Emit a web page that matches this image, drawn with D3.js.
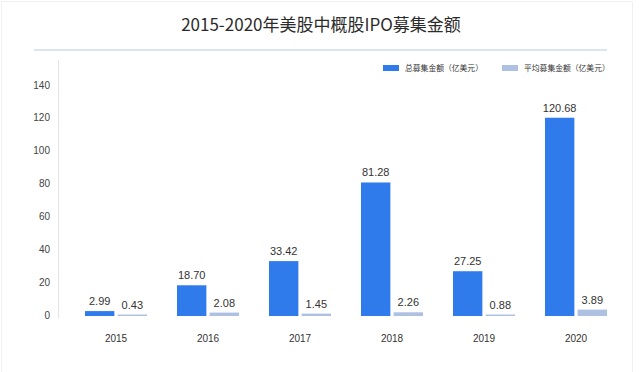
<!DOCTYPE html>
<html>
<head>
<meta charset="utf-8">
<script src="https://cdn.jsdelivr.net/npm/d3@7"></script>
<style>
  body { margin: 0; background: #fff; }
  svg { display: block; font-family: "Liberation Sans", "Noto Sans CJK SC", sans-serif; }
</style>
</head>
<body>
<div id="chart"></div>
<script>
const years = ['2015', '2016', '2017', '2018', '2019', '2020'];
const totalRaised = [2.99, 18.70, 33.42, 81.28, 27.25, 120.68];
const avgRaised = [0.43, 2.08, 1.45, 2.26, 0.88, 3.89];
const yTicks = [0, 20, 40, 60, 80, 100, 120, 140];
const seriesNames = ['总募集金额（亿美元）', '平均募集金额（亿美元）'];
const colors = ['#2f7bec', '#afc1e3'];

const width = 640;
const height = 372;

const svg = d3.select('#chart')
  .append('svg')
  .attr('width', width)
  .attr('height', height);

// faint frame round the card
svg.append('rect')
  .attr('x', 1.5).attr('y', 1.5)
  .attr('width', 631).attr('height', 372)
  .attr('fill', 'none')
  .attr('stroke', '#f0f0f0');

// title + underline
svg.append('text')
  .attr('x', 321).attr('y', 31)
  .attr('text-anchor', 'middle')
  .attr('font-family', '"Noto Sans CJK SC", sans-serif')
  .attr('font-size', 17)
  .attr('fill', '#2b2b2b')
  .text('2015-2020年美股中概股IPO募集金额');

svg.append('line')
  .attr('x1', 34).attr('x2', 607)
  .attr('y1', 50).attr('y2', 50)
  .attr('stroke', '#dde5ec')
  .attr('stroke-width', 2);

const rows = years.map((y, i) => ({ year: y, values: [totalRaised[i], avgRaised[i]] }));

const x = d3.scaleBand().domain(years).range([70, 622]).paddingInner(0).paddingOuter(0);
const xInner = d3.scaleBand().domain([0, 1]).range([15, x.bandwidth() - 15]).paddingInner(0.1);
const y = d3.scaleLinear().domain([0, 140]).range([316, 86]);

// y axis
svg.append('line')
  .attr('x1', 58.5).attr('x2', 58.5)
  .attr('y1', 60).attr('y2', 318)
  .attr('stroke', '#e4e4e4');

const yAxis = svg.append('g')
  .attr('transform', 'translate(50,0)')
  .call(d3.axisLeft(y).tickValues(yTicks).tickSize(0).tickPadding(0));
yAxis.select('.domain').remove();
yAxis.selectAll('text')
  .attr('font-family', '"Liberation Sans", sans-serif')
  .attr('font-size', 10)
  .attr('fill', '#444')
  .attr('dy', '0.2em');

// x axis labels
const xAxis = svg.append('g')
  .attr('transform', 'translate(0,316)')
  .call(d3.axisBottom(x).tickSize(0).tickPadding(19));
xAxis.select('.domain').remove();
xAxis.selectAll('text')
  .attr('font-family', '"Liberation Sans", sans-serif')
  .attr('font-size', 10)
  .attr('fill', '#333');

// bars
const groups = svg.append('g')
  .selectAll('g')
  .data(rows)
  .join('g')
  .attr('transform', (d) => `translate(${x(d.year)},0)`);

groups.selectAll('rect')
  .data((d) => d.values.map((v, k) => ({ v, k })))
  .join('rect')
  .attr('x', (d) => xInner(d.k))
  .attr('width', xInner.bandwidth())
  .attr('y', (d) => Math.min(y(d.v), y(0) - 1.5))
  .attr('height', (d) => Math.max(y(0) - y(d.v), 1.5))
  .attr('fill', (d) => colors[d.k]);

groups.selectAll('text')
  .data((d) => d.values.map((v, k) => ({ v, k })))
  .join('text')
  .attr('x', (d) => xInner(d.k) + xInner.bandwidth() / 2)
  .attr('y', (d) => Math.min(y(d.v), y(0) - 1.5) - 6)
  .attr('text-anchor', 'middle')
  .attr('font-size', 11)
  .attr('fill', '#333')
  .text((d) => d.v.toFixed(2));

// legend
const legend = svg.append('g')
  .selectAll('g')
  .data(seriesNames)
  .join('g')
  .attr('transform', (d, i) => `translate(${i === 0 ? 383 : 502},68)`);

legend.append('rect')
  .attr('x', 0).attr('y', -3)
  .attr('width', 16).attr('height', 6)
  .attr('fill', (d, i) => colors[i]);

legend.append('text')
  .attr('x', 22).attr('y', 3)
  .attr('font-family', '"Noto Sans CJK SC", sans-serif')
  .attr('font-size', 7.8)
  .attr('fill', '#333')
  .text((d) => d);
</script>
</body>
</html>
